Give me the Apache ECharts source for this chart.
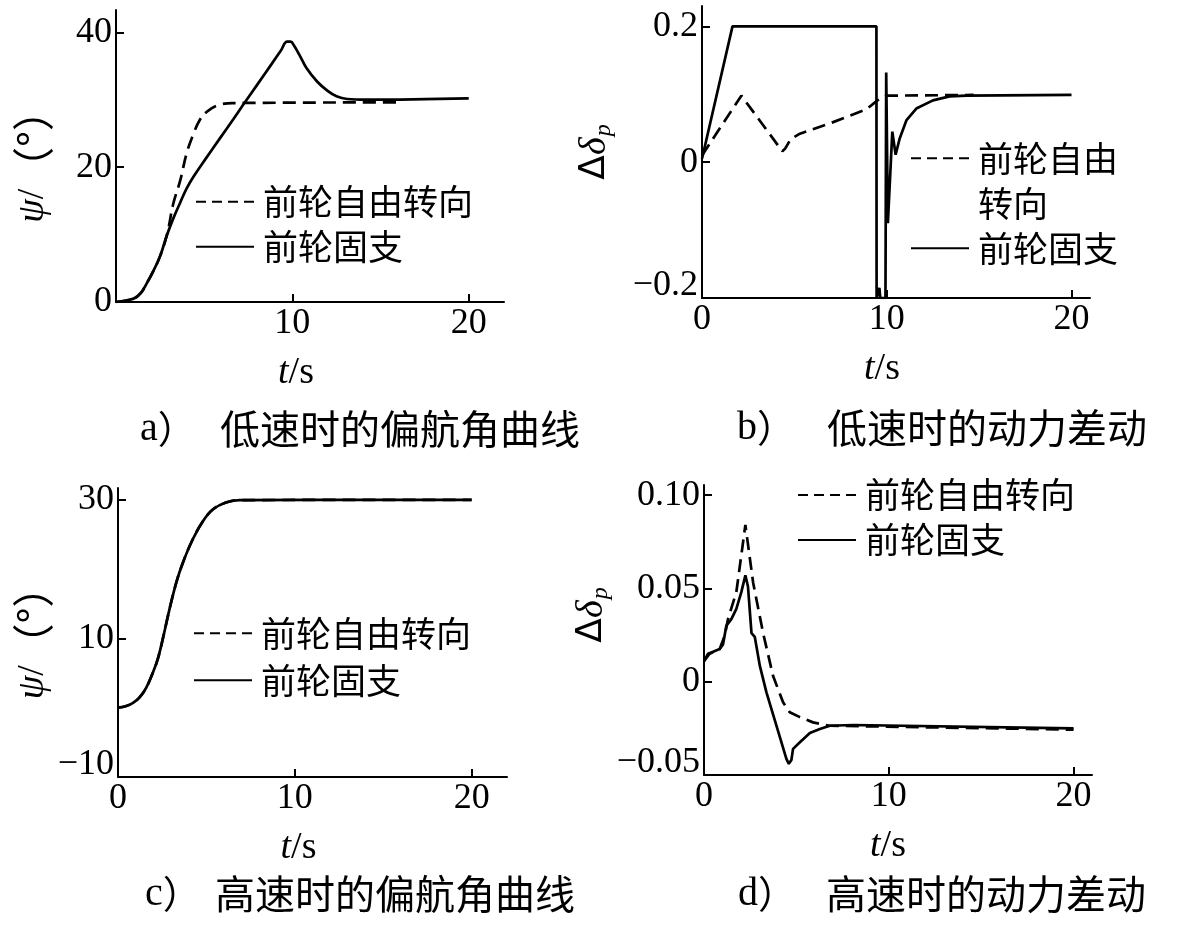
<!DOCTYPE html>
<html><head><meta charset="utf-8">
<script src="https://cdn.jsdelivr.net/npm/echarts@6/dist/echarts.min.js"></script>
<style>html,body{margin:0;padding:0;background:#fff}#c{width:1200px;height:930px}</style>
</head><body><div id="c"></div>
<script>
// ---------- names ----------
const NAME_FREE = '前轮自由转向';
const NAME_FIXED = '前轮固支';
const CAPTIONS = [
  ['a）', '低速时的偏航角曲线'],
  ['b）', '低速时的动力差动'],
  ['c）', '高速时的偏航角曲线'],
  ['d）', '高速时的动力差动']
];

// ---------- panel a: low speed yaw angle ----------
const aFreeT  = [0, 1, 1.4, 1.75, 2.1, 2.5, 2.9, 3.25, 3.65, 4.0, 4.4, 4.75, 5.15, 5.7, 6.6, 16];
const aFreeV  = [0, 0.5, 1.3, 2.8, 4.5, 6.8, 10.1, 14.6, 18.1, 22.0, 25.0, 27.0, 28.2, 29.1, 29.5, 29.6];
const aFixedT = [0, 1, 1.4, 1.75, 2.1, 2.5, 2.9, 3.25, 3.65, 4.0, 4.4, 5.1, 5.9, 6.65, 7.2, 8.0, 8.8, 9.35, 9.7, 9.9, 10.1, 10.45, 10.8, 11.4, 12.0, 12.5, 13.1, 14.2, 20];
const aFixedV = [0, 0.5, 1.3, 2.8, 4.5, 6.8, 10.0, 12.4, 14.8, 16.8, 18.6, 21.3, 24.3, 27.1, 29.2, 32.2, 35.2, 37.3, 38.6, 38.6, 38.0, 36.4, 34.7, 32.7, 31.3, 30.5, 30.1, 30.0, 30.2];

// ---------- panel b: low speed differential ----------
const bFreeT  = [0, 2.13, 4.35, 4.5, 4.8, 5.3, 7.1, 8.9, 9.5, 10.0, 14.7];
const bFreeV  = [0.01, 0.098, 0.016, 0.02, 0.034, 0.042, 0.059, 0.078, 0.091, 0.098, 0.099];
const bFixedT = [0, 1.65, 9.44, 9.45, 9.55, 9.6, 9.65, 9.93, 9.97, 10.06, 10.3, 10.48, 10.7, 11.07, 11.6, 12.5, 13.4, 14.3, 20];
const bFixedV = [0.005, 0.2, 0.2, -0.2, -0.2, -0.185, -0.2, -0.2, 0.132, -0.09, 0.045, 0.011, 0.035, 0.062, 0.079, 0.091, 0.097, 0.098, 0.099];

// ---------- panel c: high speed yaw angle ----------
const cFreeT  = [0, 0.47, 0.85, 1.22, 1.6, 1.98, 2.26, 2.54, 2.92, 3.3, 3.68, 4.23, 4.8, 5.36, 6.1, 6.87, 20];
const cFreeV  = [0, 0.25, 0.7, 1.5, 2.9, 5.1, 7.1, 10.0, 14.3, 18.1, 21.0, 24.3, 26.9, 28.6, 29.6, 29.95, 30];
const cFixedT = [0, 0.47, 0.85, 1.22, 1.6, 1.98, 2.26, 2.54, 2.92, 3.3, 3.68, 4.23, 4.8, 5.36, 6.1, 6.87, 20];
const cFixedV = [0, 0.25, 0.7, 1.5, 2.9, 5.1, 7.1, 10.0, 14.3, 18.1, 21.0, 24.3, 26.9, 28.6, 29.6, 29.95, 30];

// ---------- panel d: high speed differential ----------
const dFreeT  = [0, 0.3, 0.85, 1.12, 1.3, 1.75, 2.24, 2.66, 3.2, 3.74, 4.28, 4.64, 5.19, 5.9, 6.8, 20];
const dFreeV  = [0.011, 0.015, 0.0175, 0.0246, 0.0336, 0.048, 0.084, 0.053, 0.026, 0.003, -0.011, -0.0164, -0.019, -0.0218, -0.0236, -0.0257];
const dFixedT = [0, 0.22, 0.49, 0.85, 1.03, 1.21, 1.48, 1.75, 2.02, 2.24, 2.38, 2.57, 2.75, 3.02, 3.38, 3.92, 4.46, 4.59, 4.73, 4.82, 5.19, 5.73, 6.27, 6.81, 8.08, 20];
const dFixedV = [0.011, 0.015, 0.016, 0.0175, 0.020, 0.030, 0.0335, 0.039, 0.048, 0.057, 0.051, 0.026, 0.024, 0.0086, -0.0057, -0.0236, -0.0414, -0.044, -0.042, -0.036, -0.0325, -0.0275, -0.0254, -0.0236, -0.0232, -0.025];

// ---------- ticks ----------
const aXTicks = [10, 20];        const aXLabels = ['10', '20'];
const aYTicks = [0, 20, 40];     const aYLabels = ['0', '20', '40'];
const bXTicks = [0, 10, 20];     const bXLabels = ['0', '10', '20'];
const bYTicks = [-0.2, 0, 0.2];  const bYLabels = ['−0.2', '0', '0.2'];
const cXTicks = [0, 10, 20];     const cXLabels = ['0', '10', '20'];
const cYTicks = [-10, 10, 30];   const cYLabels = ['−10', '10', '30'];
const dXTicks = [0, 10, 20];     const dXLabels = ['0', '10', '20'];
const dYTicks = [-0.05, 0, 0.05, 0.1]; const dYLabels = ['−0.05', '0', '0.05', '0.10'];

const SERIF = '"Liberation Serif", "Times New Roman", serif';
const CJK = '"Noto Sans CJK SC", "Noto Sans", sans-serif';
const FS = 36;

function pairs(t, v) { return t.map((x, i) => [x, v[i]]); }

function labelFmt(ticks, labels, liftMin) {
  return function (val) {
    const i = ticks.findIndex(t => Math.abs(t - val) < 1e-9);
    if (i < 0) return '';
    if (liftMin && i === 0) return '{lo|' + labels[i] + '}';
    return labels[i];
  };
}
const axisLineStyle = { color: '#000', width: 2 };

function xAxis(grid, max, ticks, labels, shift) {
  return {
    type: 'value', gridIndex: grid, min: 0, max: max,
    axisLine: { show: true, onZero: false, lineStyle: axisLineStyle },
    axisTick: { show: true, inside: true, length: 8, lineStyle: axisLineStyle, customValues: ticks },
    axisLabel: { customValues: ticks, formatter: labelFmt(ticks, labels, false),
      color: '#000', fontFamily: SERIF, fontSize: FS, margin: 4 },
    splitLine: { show: false },
    name: '{i|t}{n|/s}', nameLocation: 'middle', nameGap: 52,
    nameTextStyle: { padding: [0, shift, 0, 0], rich: {
      i: { fontFamily: SERIF, fontStyle: 'italic', fontSize: FS + 2, color: '#000' },
      n: { fontFamily: SERIF, fontSize: FS + 2, color: '#000' } } }
  };
}
function yAxis(grid, min, max, ticks, labels, liftMin, name, nameGap, namePad) {
  return {
    type: 'value', gridIndex: grid, min: min, max: max,
    axisLine: { show: true, onZero: false, lineStyle: axisLineStyle },
    axisTick: { show: true, inside: true, length: 8, lineStyle: axisLineStyle, customValues: ticks },
    axisLabel: { customValues: ticks, formatter: labelFmt(ticks, labels, liftMin),
      color: '#000', fontFamily: SERIF, fontSize: FS, margin: 4,
      rich: { lo: { fontFamily: SERIF, fontSize: FS, color: '#000', padding: [0, 0, 24, 0] } } },
    splitLine: { show: false },
    name: name, nameLocation: 'middle', nameRotate: 90, nameGap: nameGap,
    nameTextStyle: { padding: namePad, rich: {
      i: { fontFamily: SERIF, fontStyle: 'italic', fontSize: FS + 2, color: '#000' },
      n: { fontFamily: SERIF, fontSize: FS + 2, color: '#000' },
      c: { fontFamily: CJK, fontSize: 42, color: '#000' },
      d: { fontFamily: '"DejaVu Sans", sans-serif', fontSize: FS, color: '#000' },
      s: { fontFamily: SERIF, fontStyle: 'italic', fontSize: 24, color: '#000', padding: [18, 0, 0, 1] } } }
  };
}
const PSI = '{i|ψ}{n|/}{c|（°）}';
const DD = '{d|Δ}{i|δ}{s|p}';

function line(name, grid, t, v, dashed, smooth) {
  return {
    type: 'line', name: name, xAxisIndex: grid, yAxisIndex: grid,
    data: pairs(t, v), symbol: 'none', showSymbol: false,
    smooth: smooth ? 0.4 : false,
    clip: true, z: dashed ? 2 : 3,
    lineStyle: { color: '#000', width: 2.7, type: dashed ? [13, 7] : 'solid' },
    itemStyle: { color: '#000' }
  };
}

function legend(left, top, gap, fmt) {
  return {
    left: left, top: top, orient: 'vertical', padding: 0, itemGap: gap,
    itemWidth: 58, itemHeight: 14, selectedMode: false,
    itemStyle: { opacity: 0 },
    data: [{ name: NAME_FREE, lineStyle: { type: [10, 6] } }, { name: NAME_FIXED }],
    formatter: fmt || (n => n),
    textStyle: { fontFamily: CJK, fontSize: 35, lineHeight: 45, color: '#000', padding: [0, 0, 0, 4] }
  };
}

const captionGraphics = [];
const capPos = [[140, 220, 429], [737, 827, 428], [145, 215, 894], [738, 826, 894]];
CAPTIONS.forEach((c, i) => {
  const p = capPos[i];
  captionGraphics.push({ type: 'text', x: p[0], y: p[2], style: {
    text: '{l|' + c[0].charAt(0) + '}{p|' + c[0].slice(1) + '}', verticalAlign: 'middle',
    rich: { l: { fontFamily: SERIF, fontSize: 40, fill: '#000' }, p: { fontFamily: CJK, fontSize: 38, fill: '#000' } } } });
  captionGraphics.push({ type: 'text', x: p[1], y: p[2], style: {
    text: c[1], fontFamily: CJK, fontSize: 40, fill: '#000', verticalAlign: 'middle' } });
});

const chart = echarts.init(document.getElementById('c'), null, { renderer: 'canvas' });
chart.setOption({
  animation: false,
  backgroundColor: '#fff',
  grid: [
    { left: 116, top: 10, width: 388, height: 292 },
    { left: 702, top: 6, width: 388, height: 292 },
    { left: 118, top: 488, width: 389, height: 289 },
    { left: 704, top: 485, width: 388, height: 290 }
  ],
  xAxis: [
    xAxis(0, 22, aXTicks, aXLabels, 28),
    xAxis(1, 21, bXTicks, bXLabels, 28),
    xAxis(2, 22, cXTicks, cXLabels, 28),
    xAxis(3, 21, dXTicks, dXLabels, 20)
  ],
  yAxis: [
    yAxis(0, 0, 43.3, aYTicks, aYLabels, false, PSI, 62, 0),
    yAxis(1, -0.2, 0.23, bYTicks, bYLabels, true, DD, 86, 0),
    yAxis(2, -10, 31.7, cYTicks, cYLabels, true, PSI, 62, 0),
    yAxis(3, -0.05, 0.1054, dYTicks, dYLabels, true, DD, 88, [0, 0, 0, 30])
  ],
  legend: [
    legend(195, 179.2, 0),
    legend(910, 90.8, 0, n => n === NAME_FREE ? '\n' + n.slice(0, 4) + '\n' + n.slice(4) : n),
    legend(193, 610.8, 2),
    legend(797, 472.5, 0)
  ],
  series: [
    line(NAME_FREE, 0, aFreeT, aFreeV, true, true),
    line(NAME_FIXED, 0, aFixedT, aFixedV, false, true),
    line(NAME_FREE, 1, bFreeT, bFreeV, true, false),
    line(NAME_FIXED, 1, bFixedT, bFixedV, false, false),
    line(NAME_FREE, 2, cFreeT, cFreeV, true, true),
    line(NAME_FIXED, 2, cFixedT, cFixedV, false, true),
    line(NAME_FREE, 3, dFreeT, dFreeV, true, false),
    line(NAME_FIXED, 3, dFixedT, dFixedV, false, false)
  ],
  graphic: captionGraphics
});
</script>
</body></html>
